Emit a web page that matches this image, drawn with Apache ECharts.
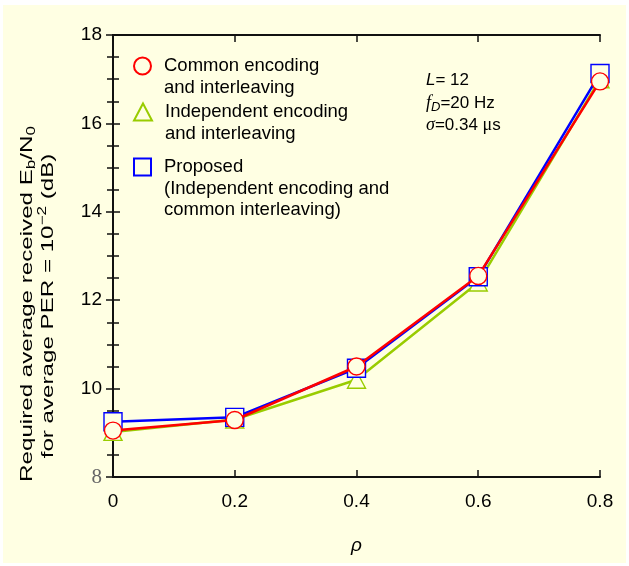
<!DOCTYPE html>
<html><head><meta charset="utf-8">
<script src="https://cdn.jsdelivr.net/npm/echarts@6/dist/echarts.min.js"></script>
<style>
html,body{margin:0;padding:0;background:#fff;}
#bg{position:absolute;left:3px;top:5px;width:623px;height:558px;background:#FFFFE3;}
#c{position:absolute;left:0;top:0;width:629px;height:566px;}
</style></head>
<body><div id="bg"></div><div id="c"></div>
<script>
// ---- data ----
const rho = [0, 0.2, 0.4, 0.6, 0.8];
const commonEnc = [9.05, 9.29, 10.50, 12.55, 16.95];
const indepEnc = [9.02, 9.30, 10.20, 12.40, 17.00];
const proposed = [9.25, 9.35, 10.46, 12.53, 17.13];
const nameCommon = 'Common encoding\nand interleaving';
const nameIndep = 'Independent encoding\nand interleaving';
const nameProp = 'Proposed\n(Independent encoding and\ncommon interleaving)';
const yMin = 8, yMax = 18, yStep = 2;
const xMin = 0, xMax = 0.8, xStep = 0.2;

const BG = '#FFFFE3';
const FONT = 'Liberation Sans, Arial, Helvetica, sans-serif';
const SERIF = 'Liberation Serif, Times New Roman, serif';
const pairs = ys => rho.map((x, i) => [x, ys[i]]);

const chart = echarts.init(document.getElementById('c'), null, {renderer: 'canvas'});
const axisLine = {show: true, lineStyle: {color: '#111', width: 2}};
const LH = 21.5;
function legend(name, icon, iconCenterY, n, w, h) {
  const total = (2 * n - 1) * LH;
  return {
    data: [{name: name, icon: icon}], left: 133, top: iconCenterY - total / 2, orient: 'vertical', padding: 0,
    itemWidth: w, itemHeight: h, selectedMode: false,
    formatter: nm => '\n'.repeat(n - 1) + nm,
    textStyle: {fontSize: 18.5, fontFamily: FONT, color: '#000', lineHeight: LH, padding: [0, 0, 0, 8]}
  };
}
const option = {
  animation: false,
  backgroundColor: 'transparent',
  grid: {left: 113, right: 29, top: 35, bottom: 89, containLabel: false},
  legend: [
    legend(nameCommon, 'circle', 66, 2, 17, 17),
    legend(nameIndep, 'triangle', 112, 2, 18, 17),
    legend(nameProp, 'rect', 167, 3, 17, 17)
  ],
  xAxis: [
    {type: 'value', min: xMin, max: xMax, interval: xStep, position: 'bottom',
     name: 'ρ', nameLocation: 'middle', nameGap: 59,
     nameTextStyle: {fontSize: 19, fontStyle: 'italic', fontFamily: FONT, color: '#000'},
     axisLine: axisLine, splitLine: {show: false},
     axisTick: {inside: true, length: 7, lineStyle: {color: '#111', width: 1.5}},
     axisLabel: {fontSize: 19, fontFamily: FONT, color: '#000', margin: 15,
       formatter: v => (Math.round(v * 10) / 10).toString()}},
    {type: 'value', min: xMin, max: xMax, interval: xStep, position: 'top',
     axisLine: axisLine, splitLine: {show: false},
     axisTick: {inside: true, length: 7, lineStyle: {color: '#111', width: 1.5}},
     axisLabel: {show: false}}
  ],
  yAxis: [
    {type: 'value', min: yMin, max: yMax, interval: yStep, position: 'left',
     axisLine: axisLine, splitLine: {show: false},
     axisTick: {inside: true, length: 7, lineStyle: {color: '#111', width: 1.5}},
     minorTick: {show: true, splitNumber: 4, length: 6, lineStyle: {color: '#111', width: 1.5}},
     axisLabel: {fontSize: 19, fontFamily: FONT, color: '#000', margin: 11,
       formatter: v => v === 8 ? '{s|8}' : String(v),
       rich: {s: {fontSize: 21, fontFamily: SERIF, color: '#666'}}}},
    {type: 'value', min: yMin, max: yMax, interval: yStep, position: 'right',
     axisLine: axisLine, splitLine: {show: false},
     axisTick: {inside: true, length: 7, lineStyle: {color: '#111', width: 1.5}},
     minorTick: {show: true, splitNumber: 4, length: 6, lineStyle: {color: '#111', width: 1.5}},
     axisLabel: {show: false}}
  ],
  series: [
    {name: nameIndep, type: 'line', data: pairs(indepEnc), symbol: 'triangle', symbolSize: [18, 17],
     lineStyle: {color: '#99CC00', width: 2.5},
     itemStyle: {color: BG, borderColor: '#99CC00', borderWidth: 1.4}, z: 2},
    {name: nameProp, type: 'line', data: pairs(proposed), symbol: 'rect', symbolSize: 18,
     lineStyle: {color: '#0000FF', width: 2.5},
     itemStyle: {color: BG, borderColor: '#0000FF', borderWidth: 1.4}, z: 3},
    {name: nameCommon, type: 'line', data: pairs(commonEnc), symbol: 'circle', symbolSize: 17,
     lineStyle: {color: '#FF0000', width: 2.5},
     itemStyle: {color: BG, borderColor: '#FF0000', borderWidth: 1.4}, z: 4}
  ],
  graphic: [
    {type: 'text', x: 27, y: 304, rotation: Math.PI / 2, scaleX: 1.42,
     style: {text: 'Required average received E{sub|b}/N{sub|0}', fontSize: 17, fontFamily: FONT, fill: '#000',
       align: 'center', verticalAlign: 'middle',
       rich: {sub: {fontSize: 12, fontFamily: FONT, verticalAlign: 'bottom', padding: [10, 0, 0, 0]}}}},
    {type: 'text', x: 48, y: 306, rotation: Math.PI / 2, scaleX: 1.42,
     style: {text: 'for average PER = 10{sup|−2} (dB)', fontSize: 17, fontFamily: FONT, fill: '#000',
       align: 'center', verticalAlign: 'middle',
       rich: {sup: {fontSize: 12, fontFamily: FONT, verticalAlign: 'top', padding: [0, 0, 10, 0]}}}},
    {type: 'text', x: 426, y: 80,
     style: {text: '{i|L}= 12', fontSize: 17, fontFamily: FONT, fill: '#000', verticalAlign: 'middle',
       rich: {i: {fontSize: 17, fontFamily: FONT, fontStyle: 'italic'}}}},
    {type: 'text', x: 426, y: 103,
     style: {text: '{f|f}{d|D}=20 Hz', fontSize: 17, fontFamily: FONT, fill: '#000', verticalAlign: 'middle',
       rich: {f: {fontSize: 18, fontFamily: SERIF, fontStyle: 'italic'},
              d: {fontSize: 13, fontFamily: FONT, fontStyle: 'italic', verticalAlign: 'bottom', padding: [8, 0, 0, 0]}}}},
    {type: 'text', x: 426, y: 125,
     style: {text: '{s|σ}=0.34 {m|μ}s', fontSize: 17, fontFamily: FONT, fill: '#000', verticalAlign: 'middle',
       rich: {s: {fontSize: 18, fontFamily: SERIF, fontStyle: 'italic'},
              m: {fontSize: 18, fontFamily: SERIF}}}}
  ]
};
chart.setOption(option);
</script>
</body></html>
